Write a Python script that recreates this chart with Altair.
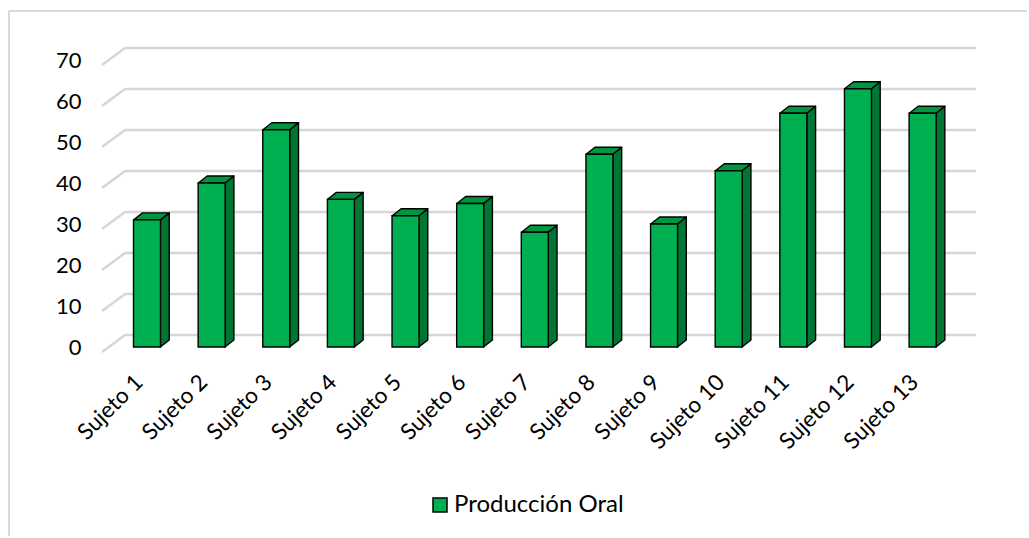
import altair as alt
import pandas as pd

# --- data -------------------------------------------------------------
SUJETOS = ["Sujeto 1", "Sujeto 2", "Sujeto 3", "Sujeto 4", "Sujeto 5",
           "Sujeto 6", "Sujeto 7", "Sujeto 8", "Sujeto 9", "Sujeto 10",
           "Sujeto 11", "Sujeto 12", "Sujeto 13"]
VALORES = [31, 40, 53, 36, 32, 35, 28, 47, 30, 43, 57, 63, 57]
SERIE = "Producción Oral"
TICKS = [0, 10, 20, 30, 40, 50, 60, 70]

# --- style --------------------------------------------------------------
FONT = "Lato"
GREEN = "#00B050"
GREEN_TOP = "#00953F"
GREEN_SIDE = "#007534"
GRID = "#D6D6D6"

W, H = 851, 287                 # plot area (front plane)
X_LO, X_HI = 0.381, 13.393      # x domain (category index)
Y_MAX = 70
PX_X = W / (X_HI - X_LO)
PX_Y = H / Y_MAX
BAR_PX = 27                     # front face width
DEPTH_X_PX, DEPTH_Y_PX = 9, 7   # bar depth projection
WALL_X_PX, WALL_Y_PX = 23, 12   # back wall projection

hw = BAR_PX / 2 / PX_X
ddx = DEPTH_X_PX / PX_X
ddy = DEPTH_Y_PX / PX_Y

bars = pd.DataFrame({
    "idx": list(range(1, len(SUJETOS) + 1)),
    "sujeto": SUJETOS,
    "valor": VALORES,
    "serie": [SERIE] * len(SUJETOS),
})

side_rows, top_rows = [], []
for i, v in zip(bars["idx"], bars["valor"]):
    side_rows += [
        {"idx": i, "x": i + hw, "top": v, "bot": 0},
        {"idx": i, "x": i + hw + ddx, "top": v + ddy, "bot": ddy},
    ]
    top_rows += [
        {"idx": i, "x": i - hw, "top": v, "bot": v},
        {"idx": i, "x": i - hw + ddx, "top": v + ddy, "bot": v},
        {"idx": i, "x": i + hw, "top": v + ddy, "bot": v},
        {"idx": i, "x": i + hw + ddx, "top": v + ddy, "bot": v + ddy},
    ]
side = pd.DataFrame(side_rows)
tops = pd.DataFrame(top_rows)
ticks = pd.DataFrame({"tick": TICKS})

xscale = alt.Scale(domain=[X_LO, X_HI], nice=False, zero=False)
yscale = alt.Scale(domain=[0, Y_MAX], nice=False)

# back-wall gridlines with the value axis
grid = alt.Chart(ticks).mark_rule(
    color=GRID, strokeWidth=2.5, yOffset=-WALL_Y_PX
).encode(
    y=alt.Y("tick:Q", scale=yscale, axis=alt.Axis(
        values=TICKS, domain=False, ticks=False, grid=False, title=None,
        labelFont=FONT, labelFontSize=22, labelColor="black",
        labelPadding=21)),
    x=alt.value(WALL_X_PX),
    x2=alt.value(W + WALL_X_PX),
)

# side-wall diagonals
diag = alt.Chart(ticks).mark_rule(
    color=GRID, strokeWidth=2.5, yOffset=5, y2Offset=-WALL_Y_PX
).encode(
    y=alt.Y("tick:Q", scale=yscale),
    y2="tick:Q",
    x=alt.value(0),
    x2=alt.value(WALL_X_PX),
)

side_faces = alt.Chart(side).mark_area(
    fill=GREEN_SIDE, stroke="black", strokeWidth=1.4, strokeJoin="round"
).encode(
    x=alt.X("x:Q", scale=xscale, axis=None),
    y=alt.Y("top:Q", scale=yscale, stack=False),
    y2="bot:Q",
    detail="idx:N",
)

top_faces = alt.Chart(tops).mark_area(
    fill=GREEN_TOP, stroke="black", strokeWidth=1.4, strokeJoin="round"
).encode(
    x=alt.X("x:Q", scale=xscale, axis=None),
    y=alt.Y("top:Q", scale=yscale, stack=False),
    y2="bot:Q",
    detail="idx:N",
)

front = alt.Chart(bars).mark_bar(
    size=BAR_PX, stroke="black", strokeWidth=1.4
).encode(
    x=alt.X("idx:Q", scale=xscale, axis=None),
    y=alt.Y("valor:Q", scale=yscale),
    color=alt.Color("serie:N", scale=alt.Scale(range=[GREEN]), legend=alt.Legend(
        title=None, orient="none", legendX=326, legendY=433,
        symbolType="square", symbolSize=196, symbolStrokeColor="black",
        symbolStrokeWidth=1.5, labelFont=FONT, labelFontSize=24,
        labelColor="black", labelOffset=2, labelLimit=400, padding=0)),
)

labels = alt.Chart(bars).mark_text(
    angle=315, align="right", baseline="middle", font=FONT, fontSize=22.5,
    color="black", dx=-11
).encode(
    x=alt.X("idx:Q", scale=xscale, axis=None),
    y=alt.value(H + 24),
    text="sujeto:N",
)

# chart frame (left and top edges)
frame_left = alt.Chart(ticks).mark_rule(color="#D9D9D9", strokeWidth=1.5).encode(
    x=alt.value(-93), y=alt.value(-49), y2=alt.value(476))
frame_top = alt.Chart(ticks).mark_rule(color="#D9D9D9", strokeWidth=1.5).encode(
    x=alt.value(-93), x2=alt.value(925), y=alt.value(-49))

chart = alt.layer(
    frame_left, frame_top, grid, diag, side_faces, top_faces, front, labels
).properties(
    width=W, height=H,
    padding={"left": 8, "top": 10, "right": 0, "bottom": 0},
    background="white",
).configure_view(stroke=None)

chart.save("out.html", embed_options={"renderer": "svg", "actions": False})
